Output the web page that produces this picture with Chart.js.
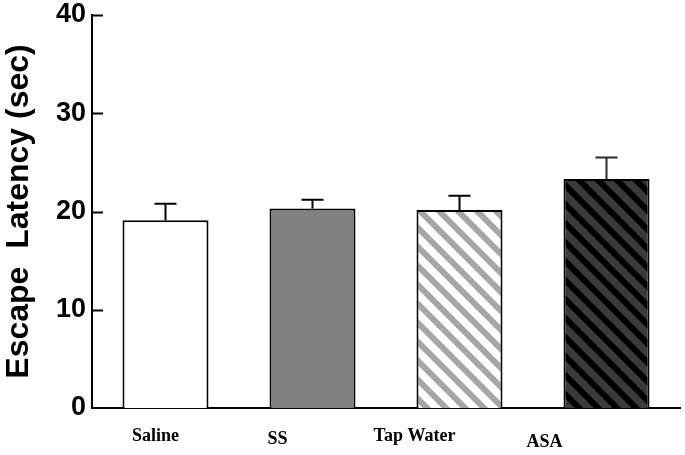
<!DOCTYPE html>
<html>
<head>
<meta charset="utf-8">
<script src="https://cdn.jsdelivr.net/npm/chart.js@4.4.0/dist/chart.umd.min.js"></script>
<style>
  html, body { margin: 0; padding: 0; background: #fff; }
  #wrap { width: 685px; height: 455px; }
</style>
</head>
<body>
<div id="wrap"><canvas id="latencyCanvas" width="685" height="455"></canvas></div>
<script>
// data
const groups = ['Saline', 'SS', 'Tap Water', 'ASA'];
const latency = [19.1, 20.3, 20.15, 23.3];
const latencyErr = [1.7, 0.9, 1.45, 2.2];
const yTicks = [0, 10, 20, 30, 40];

// hatch pattern, diagonal stripes going down to the right
function stripes(bg, fg, size, width) {
    const c = document.createElement('canvas');
    c.width = size; c.height = size;
    const g = c.getContext('2d');
    g.fillStyle = bg;
    g.fillRect(0, 0, size, size);
    g.strokeStyle = fg;
    g.lineWidth = width;
    for (let k = -2; k <= 2; k++) {
        g.beginPath();
        g.moveTo(k * size - size, -size);
        g.lineTo(k * size + 2 * size, 2 * size);
        g.stroke();
    }
    return g.createPattern(c, 'repeat');
}

const fills = [
    '#ffffff',
    '#808080',
    stripes('#ffffff', '#a6a6a6', 19, 6),
    stripes('#3a3a3a', '#000000', 19, 6)
];

// upper error bars, inward y ticks, category labels
const extras = {
    id: 'extras',
    afterDatasetsDraw(chart) {
        const ctx = chart.ctx;
        const x = chart.scales.x, y = chart.scales.y;
        const meta = chart.getDatasetMeta(0);
        ctx.save();
        ctx.lineWidth = 2;
        meta.data.forEach((bar, i) => {
            const top = y.getPixelForValue(latency[i] + latencyErr[i]);
            const base = y.getPixelForValue(latency[i]);
            ctx.strokeStyle = i === 3 ? '#2a2a2a' : '#000';
            ctx.beginPath();
            ctx.moveTo(bar.x, base);
            ctx.lineTo(bar.x, top);
            ctx.moveTo(bar.x - 11, top);
            ctx.lineTo(bar.x + 11, top);
            ctx.stroke();
        });
        ctx.strokeStyle = '#000';
        yTicks.forEach(v => {
            if (v === 0) return;
            const py = Math.round(y.getPixelForValue(v)) + 0.5;
            ctx.beginPath();
            ctx.moveTo(x.left, py);
            ctx.lineTo(x.left + 11, py);
            ctx.stroke();
        });
        // labels sit left of the bar centres in the original
        const nudge = [[-10, 0], [-35, 3], [-45, 0], [-62, 6]];
        ctx.fillStyle = '#000';
        ctx.font = 'bold 18px "Liberation Serif", "Times New Roman", serif';
        ctx.textAlign = 'center';
        ctx.textBaseline = 'middle';
        groups.forEach((g, i) => {
            ctx.fillText(g, x.getPixelForValue(i) + nudge[i][0], 436 + nudge[i][1]);
        });
        ctx.restore();
    }
};

new Chart(document.getElementById('latencyCanvas').getContext('2d'), {
    type: 'bar',
    data: {
        labels: groups,
        datasets: [{
            label: 'Escape Latency',
            data: latency,
            backgroundColor: fills,
            borderColor: '#000',
            borderWidth: 2,
            borderSkipped: 'bottom',
            barPercentage: 0.585,
            categoryPercentage: 1
        }]
    },
    options: {
        responsive: false,
        animation: false,
        layout: { padding: { top: 15, right: 5, left: 0, bottom: 0 } },
        plugins: {
            legend: { display: false },
            tooltip: { enabled: false }
        },
        scales: {
            x: {
                grid: { display: false },
                border: { color: '#000', width: 2 },
                ticks: { display: false },
                afterFit(s) { s.height = 47; s.paddingLeft = 0; s.paddingRight = 0; }
            },
            y: {
                min: 0,
                max: 40,
                afterBuildTicks(s) { s.ticks = yTicks.map(v => ({ value: v })); },
                grid: { display: false, drawTicks: false },
                border: { color: '#000', width: 2 },
                ticks: {
                    color: '#000',
                    padding: 6,
                    font: { family: 'Liberation Sans, Arial, sans-serif', size: 27, weight: 'bold' }
                },
                title: {
                    display: true,
                    text: 'Escape  Latency (sec)',
                    color: '#000',
                    padding: 0,
                    font: { family: 'Liberation Sans, Arial, sans-serif', size: 32, weight: 'bold' }
                },
                afterFit(s) { s.width = 92; s.paddingTop = 0; s.paddingBottom = 0; }
            }
        }
    },
    plugins: [extras]
});
</script>
</body>
</html>
